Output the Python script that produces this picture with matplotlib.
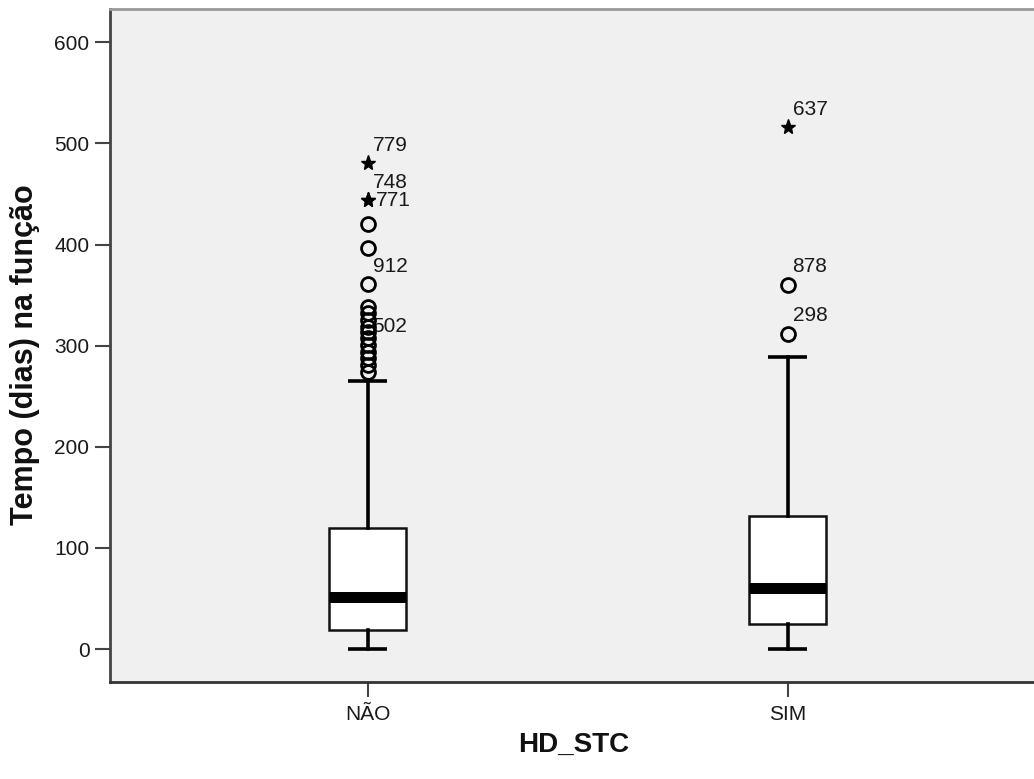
import matplotlib
matplotlib.use("Agg")
import matplotlib.pyplot as plt

plt.rcParams['font.family'] = ['Liberation Sans', 'DejaVu Sans']

# ---- data ----
categories = ["NÃO", "SIM"]
q1 = [18.8, 24.4]
median = [51.2, 60.0]
q3 = [120.0, 131.8]
whisker_lo = [0, 0]
whisker_hi = [265.4, 289.0]

# mild outliers (circles)
outliers_nao = [420, 397, 360.6, 338.6, 332, 325.4, 318.8, 313.8, 307.3, 300.7,
                294, 287.5, 280.9, 274.3]
outliers_sim = [360, 312]
# extreme values (stars)
extremes_nao = [480.4, 444, 444]
extremes_sim = [516]

# labelled cases: (group index, value, case label)
labels_group = [0, 0, 0, 0, 0, 1, 1, 1]
labels_value = [480.4, 444, 444, 360.6, 300.7, 516, 360, 312]
labels_text = ["779", "748", "771", "912", "502", "637", "878", "298"]

ylabel = "Tempo (dias) na função"
xlabel = "HD_STC"
yticks = [0, 100, 200, 300, 400, 500, 600]

# ---- figure ----
W, H = 1034, 779
fig = plt.figure(figsize=(W / 100, H / 100), dpi=100)
fig.patch.set_facecolor("white")
ax = fig.add_axes([110 / W, 1 - 682 / H, 935 / W, (682 - 8.5) / H])
ax.set_facecolor("#f0f0f0")

positions = [1, 2]
stats = []
for i in range(len(categories)):
    stats.append(dict(med=median[i], q1=q1[i], q3=q3[i],
                      whislo=whisker_lo[i], whishi=whisker_hi[i],
                      fliers=[], label=categories[i]))

ax.bxp(stats, positions=positions, widths=0.183, capwidths=0.093,
       showfliers=False, patch_artist=True,
       boxprops=dict(facecolor="white", edgecolor="#111111", linewidth=1.8),
       medianprops=dict(color="black", linewidth=7.9, solid_capstyle="butt"),
       whiskerprops=dict(color="black", linewidth=2.6),
       capprops=dict(color="black", linewidth=2.6, solid_capstyle="butt"),
       zorder=3)

# outliers
for pos, vals in zip(positions, [outliers_nao, outliers_sim]):
    ax.plot([pos] * len(vals), vals, linestyle="none", marker="o",
            markersize=10, markerfacecolor="none", markeredgecolor="black",
            markeredgewidth=2.0, zorder=4)
for pos, vals in zip(positions, [extremes_nao, extremes_sim]):
    ax.plot([pos] * len(vals), vals, linestyle="none", marker="*",
            markersize=11, markerfacecolor="black", markeredgecolor="black",
            zorder=4)

# case labels
for g, v, t in zip(labels_group, labels_value, labels_text):
    if t == "771":
        off = (6, 0)
    else:
        off = (3.5, 13)
    ax.annotate(t, xy=(positions[g], v), xytext=off, textcoords="offset points",
                ha="left", va="center", fontsize=15, color="#1a1a1a")

# axes
ax.set_xlim(0.3864, 2.6126)
ax.set_ylim(-32.6, 633.5)
ax.set_xticks(positions)
ax.set_xticklabels(categories)
ax.set_yticks(yticks)
ax.tick_params(axis="both", direction="out", length=10.8, width=1.5,
               color="#444444", labelsize=15, labelcolor="#1a1a1a", pad=4)
ax.tick_params(axis="x", pad=6)

ax.spines["left"].set_color("#444444")
ax.spines["left"].set_linewidth(2)
ax.spines["bottom"].set_color("#333333")
ax.spines["bottom"].set_linewidth(2)
ax.spines["top"].set_color("#999999")
ax.spines["top"].set_linewidth(2)
ax.spines["right"].set_visible(False)

fig.text(25 / W, 1 - 355 / H, ylabel, rotation=90, ha="center", va="center",
         fontsize=22, fontweight="bold", color="#111111")
fig.text(574 / W, 1 - 745 / H, xlabel, ha="center", va="center",
         fontsize=20, fontweight="bold", color="#111111")

fig.savefig("out.png", dpi=100, facecolor="white")
